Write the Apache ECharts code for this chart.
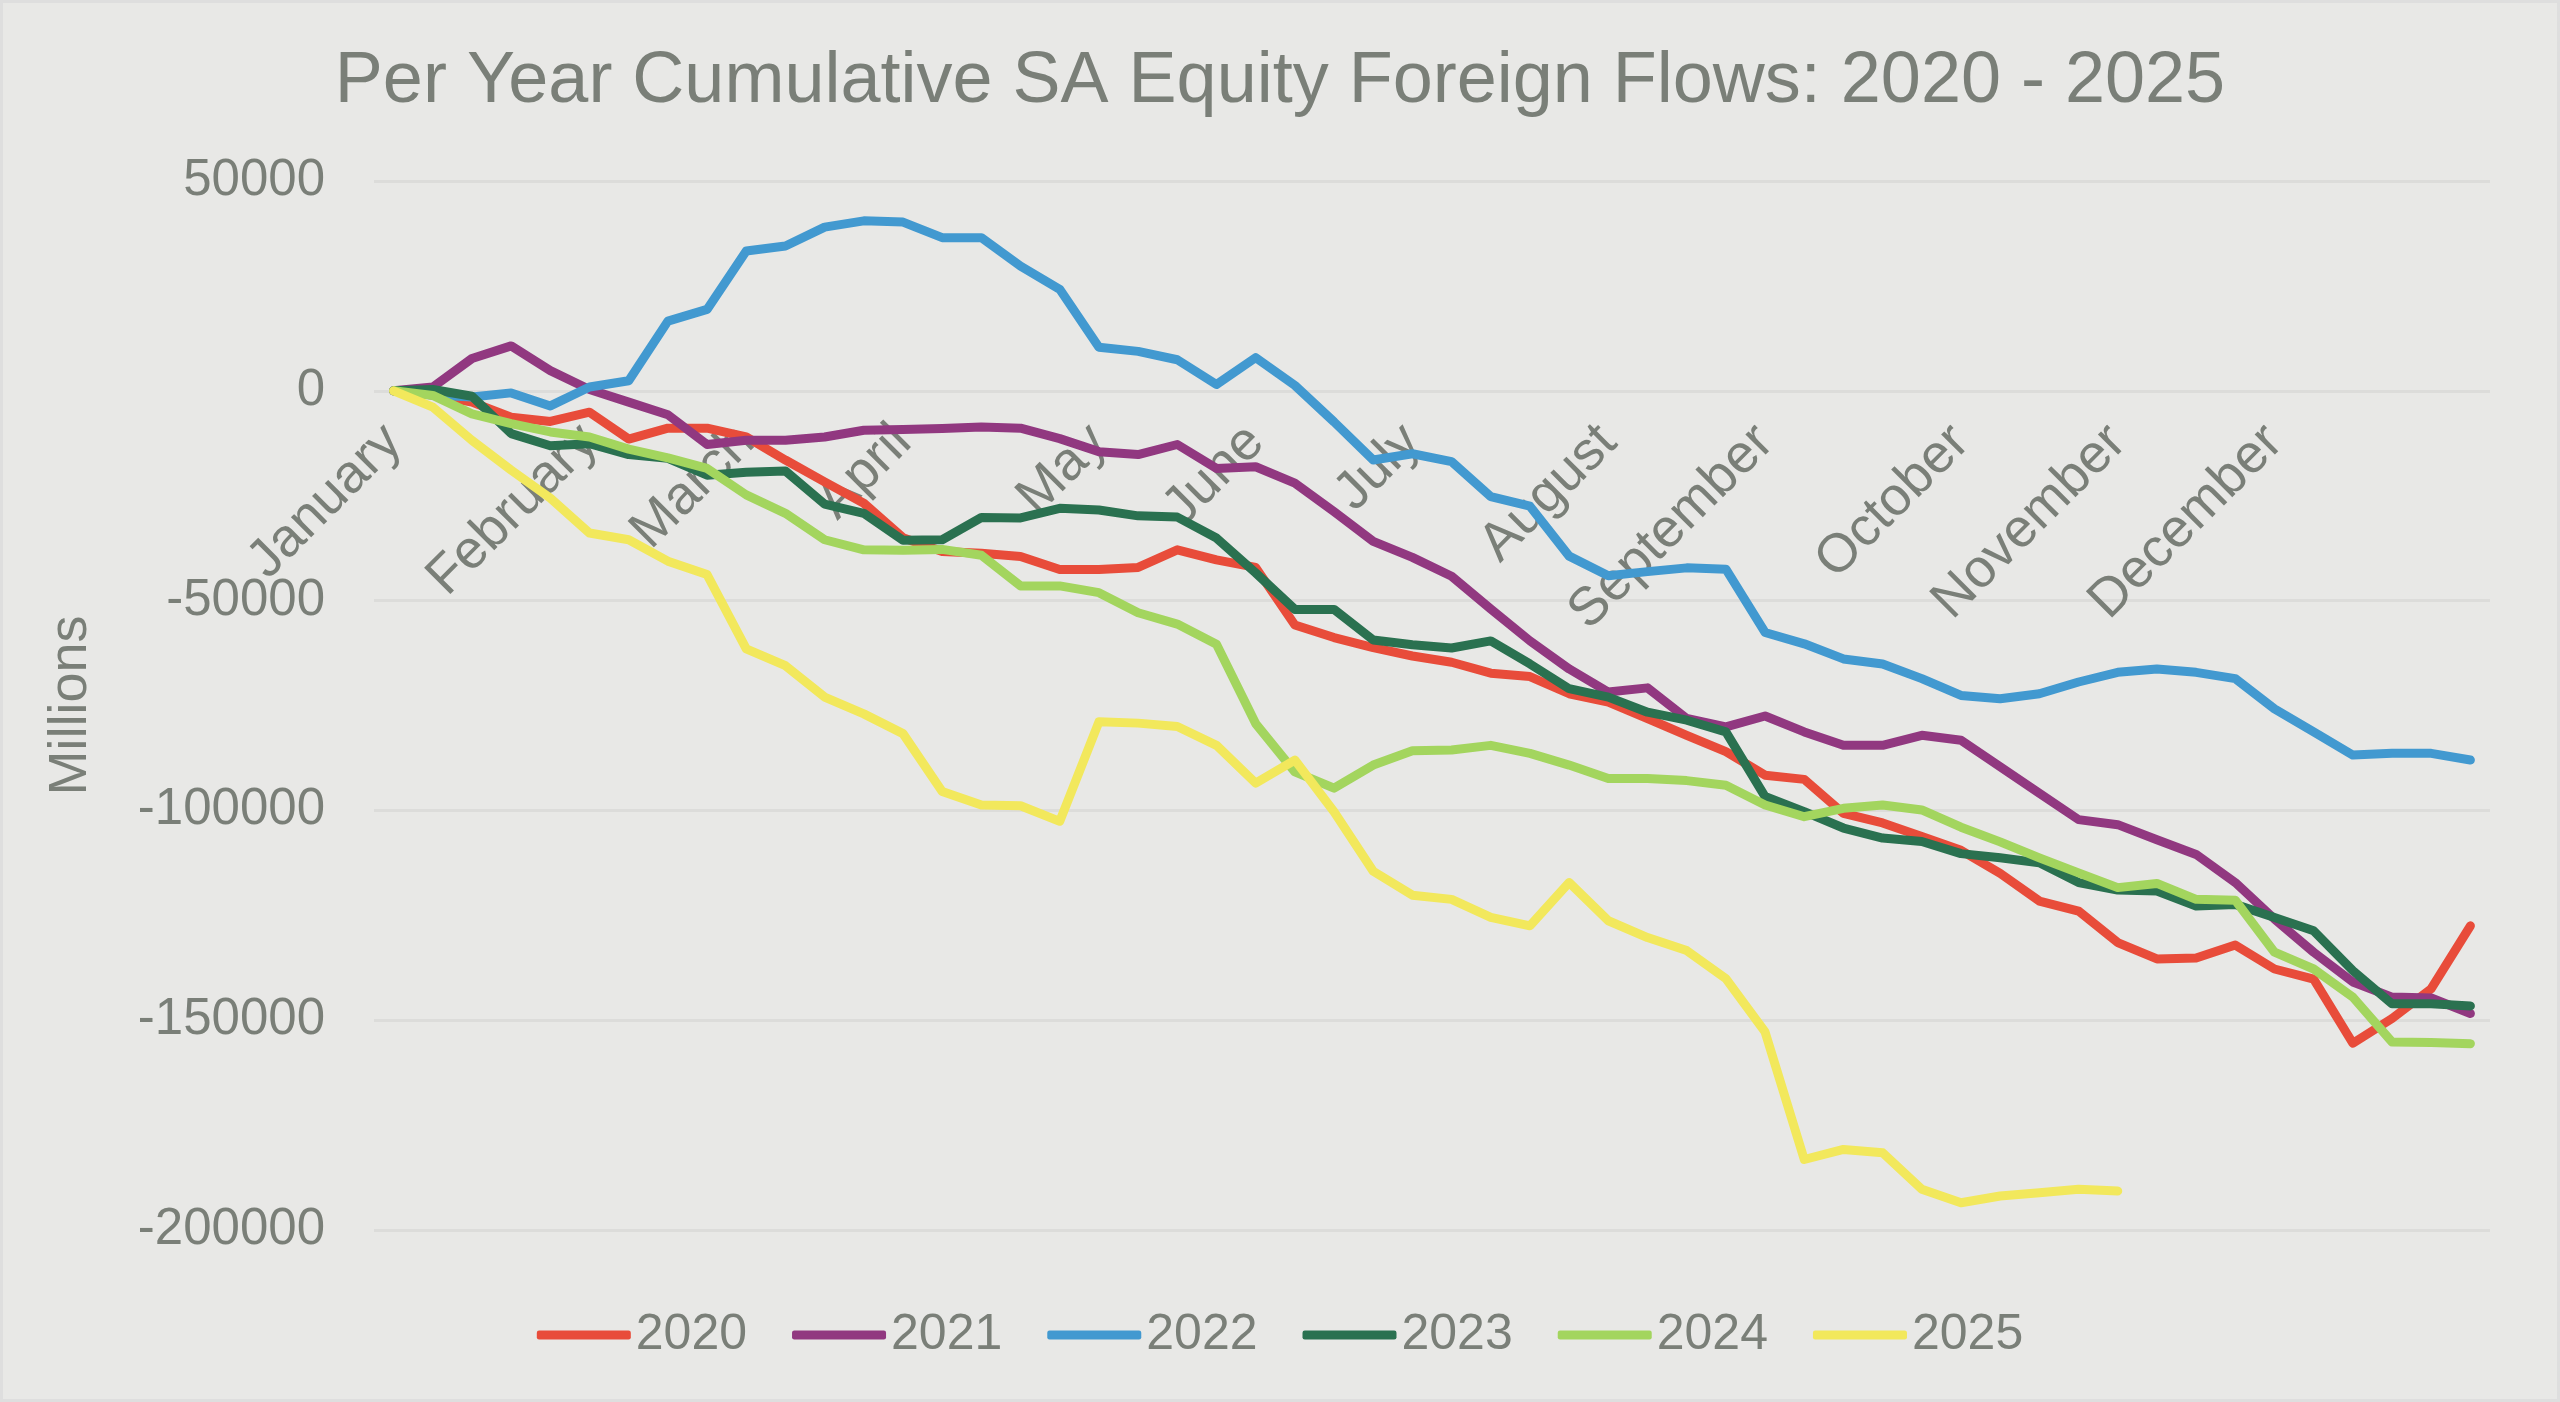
<!DOCTYPE html>
<html>
<head>
<meta charset="utf-8">
<title>Per Year Cumulative SA Equity Foreign Flows</title>
<script src="https://cdn.jsdelivr.net/npm/echarts@6/dist/echarts.min.js"></script>
<style>
  html, body { margin: 0; padding: 0; background: #e8e8e6; }
  #chart { width: 2560px; height: 1402px; box-sizing: border-box; border: 3px solid #dedede; }
</style>
</head>
<body>
<div id="chart"></div>
<script>
// weekly cumulative flows, R millions
var weeks = ['W1','W2','W3','W4','W5','W6','W7','W8','W9','W10','W11','W12','W13','W14','W15','W16','W17','W18',
  'W19','W20','W21','W22','W23','W24','W25','W26','W27','W28','W29','W30','W31','W32','W33','W34','W35','W36',
  'W37','W38','W39','W40','W41','W42','W43','W44','W45','W46','W47','W48','W49','W50','W51','W52','W53','W54'];
var monthNames = ['January','February','March','April','May','June','July','August','September','October','November','December'];
var monthStartWeek = [0, 5, 9, 13, 18, 22, 26, 31, 35, 40, 44, 48];
var yTicks = [-200000, -150000, -100000, -50000, 0, 50000];

var years = ['2020', '2021', '2022', '2023', '2024', '2025'];
var y2020 = [0, -1000, -2700, -6300, -7300, -5100, -11500, -8900, -8900, -11000, -16500, -21700, -26800, -35000,
  -38300, -38700, -39500, -42600, -42600, -42100, -37900, -40300, -42100, -55800, -58800, -61200, -63200,
  -64700, -67300, -68100, -72200, -74200, -78100, -82100, -86000, -91600, -92600, -100700, -103000, -106200,
  -109500, -115000, -121600, -124000, -131500, -135400, -135200, -132100, -137800, -140200, -155500, -149600,
  -142500, -127500];
var y2021 = [0, 900, 7700, 10700, 4800, 300, -2700, -5700, -12800, -11800, -11800, -11000, -9400, -9200,
  -9000, -8600, -8900, -11400, -14500, -15200, -12800, -18500, -18100, -22000, -28800, -35900, -39700,
  -44200, -52000, -59600, -66300, -71800, -70800, -78100, -80100, -77500, -81300, -84500, -84500, -82100,
  -83300, -89600, -95900, -102200, -103400, -107000, -110500, -117200, -125900, -133800, -140900, -144500,
  -144700, -148400];
var y2022 = [0, -1000, -1500, -500, -3600, 900, 2400, 16600, 19400, 33300, 34500, 39000, 40500, 40200,
  36500, 36500, 29700, 24200, 10400, 9400, 7400, 1500, 7900, 1300, -7400, -16500, -15000,
  -16900, -25200, -27500, -39400, -44100, -43100, -42200, -42500, -57600, -60300, -63900, -65100, -68600,
  -72600, -73400, -72200, -69400, -67100, -66300, -67100, -68600, -75800, -81300, -86800, -86400,
  -86400, -88000];
var y2023 = [0, 300, -1300, -10200, -13100, -12600, -15200, -16100, -20100, -19400, -19100, -27000, -29200, -35600,
  -35500, -30200, -30300, -28000, -28400, -29800, -30100, -35100, -43400, -52100, -52100, -59400, -60500,
  -61300, -59600, -65100, -71000, -73000, -76600, -78500, -81300, -96700, -100300, -104200, -106600, -107400,
  -110300, -111300, -112500, -117200, -119000, -119200, -122800, -122400, -125500, -128700, -138200, -146100,
  -146100, -146600];
var y2024 = [0, -1100, -5500, -7800, -9800, -11000, -13900, -16000, -18500, -24800, -29200, -35500, -37900, -38000,
  -37800, -39200, -46500, -46500, -48100, -52900, -55600, -60400, -79300, -90800, -94700, -89200, -85800,
  -85600, -84500, -86400, -89200, -92400, -92400, -92900, -94000, -98700, -101500, -99500, -98700, -99900,
  -104000, -107500, -111300, -114900, -118400, -117400, -121200, -121400, -133800, -137800, -144500, -155200,
  -155300, -155600];
var y2025 = [0, -3900, -11800, -18900, -25600, -33900, -35500, -40600, -43800, -61500, -65500, -73000, -77000, -81700,
  -95500, -98700, -98900, -102600, -78900, -79200, -80000, -84500, -93500, -88000, -100300, -114500, -120200,
  -121200, -125500, -127500, -117200, -126300, -130300, -133400, -140100, -152800, -183200, -180800, -181600,
  -190300, -193500, -191900, -191100, -190300, -190700];

var yearData = [y2020, y2021, y2022, y2023, y2024, y2025];
var colors = ['#e84c3a', '#913880', '#4299d0', '#2a7150', '#a3d55e', '#f2e85c'];
var textColor = '#7a7f78';
var font = 'Liberation Sans';

var monthByWeek = {};
monthStartWeek.forEach(function(w, i) { monthByWeek[w] = monthNames[i]; });

// month labels sit on the zero line (Excel style); shift the x axis up to y = 0
var gridTop = 178, gridBottom = 169, chartH = 1402;
var yMin = yTicks[0], yMax = yTicks[yTicks.length - 1];
var plotH = chartH - gridTop - gridBottom;
var zeroOffset = -plotH * (0 - yMin) / (yMax - yMin);

var chart = echarts.init(document.getElementById('chart'), null, { renderer: 'canvas' });
chart.setOption({
  animation: false,
  backgroundColor: '#e8e8e6',
  color: colors,
  textStyle: { fontFamily: font },
  title: {
    text: 'Per Year Cumulative SA Equity Foreign Flows: 2020 - 2025',
    left: 'center',
    top: 38,
    textStyle: { color: textColor, fontSize: 72, fontWeight: 'normal', fontFamily: font }
  },
  legend: {
    data: years,
    top: 1302,
    left: 'center',
    icon: 'roundRect',
    itemWidth: 94,
    itemHeight: 9,
    itemGap: 45,
    textStyle: { color: textColor, fontSize: 50, fontFamily: font }
  },
  grid: { left: 371, right: 67, top: gridTop, bottom: gridBottom, containLabel: false, outerBoundsMode: 'none' },
  xAxis: {
    type: 'category',
    data: weeks,
    boundaryGap: true,
    position: 'bottom',
    offset: zeroOffset,
    z: 3,
    axisLine: { show: false, onZero: false },
    axisTick: { show: false },
    splitLine: { show: false },
    axisLabel: {
      interval: 0,
      rotate: 45,
      margin: 48,
      color: textColor,
      fontSize: 54,
      fontFamily: font,
      formatter: function(v, i) { return monthByWeek[i] || ''; }
    }
  },
  yAxis: {
    type: 'value',
    min: yMin,
    max: yMax,
    interval: 50000,
    name: 'Millions',
    nameLocation: 'middle',
    nameGap: 276,
    nameRotate: 90,
    nameTextStyle: { color: textColor, fontSize: 54, fontFamily: font },
    axisLine: { show: false },
    axisTick: { show: false },
    splitLine: { lineStyle: { color: '#dcdcda', width: 3 } },
    axisLabel: {
      margin: 49,
      color: textColor,
      fontSize: 51,
      fontFamily: font,
      formatter: function(v) { return String(v); }
    }
  },
  series: years.map(function(y, k) {
    return {
      name: y,
      type: 'line',
      data: yearData[k],
      showSymbol: false,
      symbol: 'none',
      lineStyle: { width: 9, cap: 'round', join: 'round', color: colors[k] },
      itemStyle: { color: colors[k] }
    };
  })
});
</script>
</body>
</html>
